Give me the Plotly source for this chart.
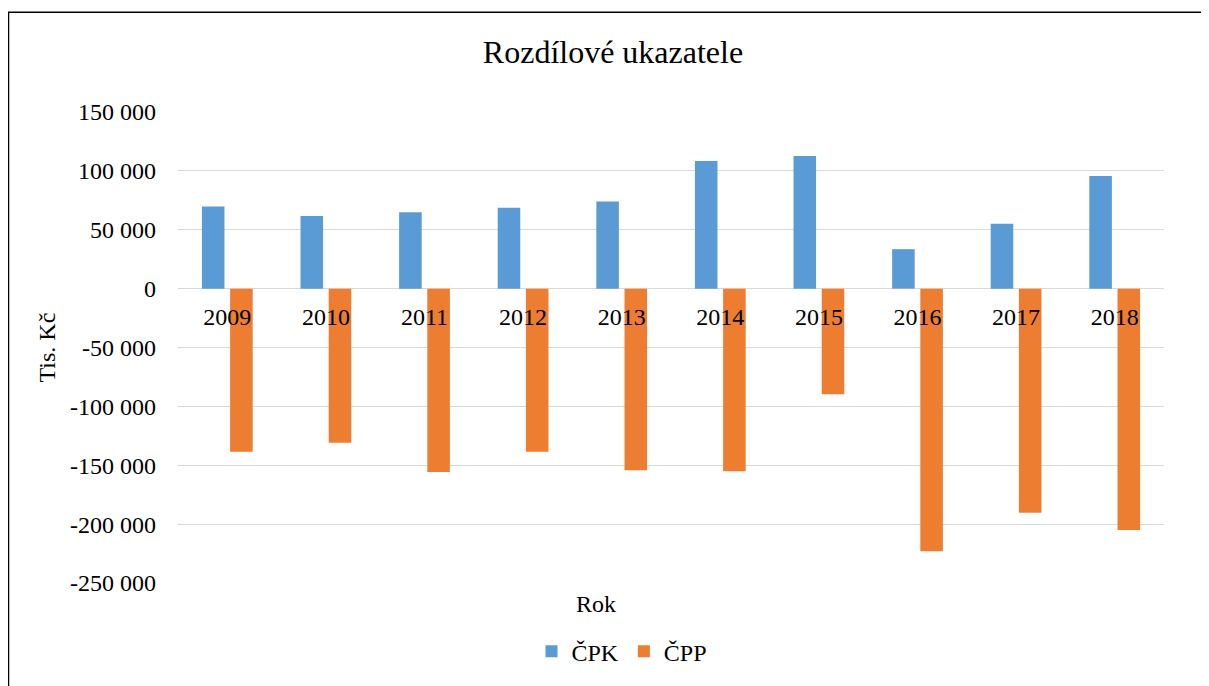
import plotly.graph_objects as go

years = ["2009", "2010", "2011", "2012", "2013", "2014", "2015", "2016", "2017", "2018"]
cpk = [69800, 61700, 64800, 68700, 74000, 108400, 112600, 33500, 55200, 95700]
cpp = [-138500, -130900, -155700, -138500, -154200, -155100, -89800, -223000, -190300, -204900]
y_tickvals = [150000, 100000, 50000, 0, -50000, -100000, -150000, -200000, -250000]
y_ticktext = ["150 000", "100 000", "50 000", "0", "-50 000", "-100 000", "-150 000", "-200 000", "-250 000"]

FONT = "Liberation Serif, Times New Roman, serif"
OFF = 8  # page body margin
W, H = 1209 - OFF, 686 - OFF
L, R, T, B = 178 - OFF, 45, 112 - OFF, 100
pw, ph = W - L - R, H - T - B

def px(x):
    return (x - OFF - L) / pw

def py(y):
    return (H - B - (y - OFF)) / ph

fig = go.Figure()
fig.add_trace(go.Bar(x=years, y=cpk, name="ČPK", marker=dict(color="#5b9bd5", line=dict(width=0))))
fig.add_trace(go.Bar(x=years, y=cpp, name="ČPP", marker=dict(color="#ed7d31", line=dict(width=0))))

fig.update_layout(
    width=W, height=H,
    margin=dict(l=L, r=R, t=T, b=B),
    paper_bgcolor="white", plot_bgcolor="white",
    font=dict(family=FONT, size=24, color="black"),
    barmode="group", bargap=0.428, bargroupgap=0.2,
    title=dict(text="Rozdílové ukazatele", x=(613 - OFF) / W, xanchor="center", y=1 - (52 - OFF) / H,
               yanchor="middle", font=dict(family=FONT, size=32, color="black")),
    showlegend=True,
    legend=dict(orientation="h", x=px(622), xanchor="center", y=py(655), yanchor="middle",
                font=dict(family=FONT, size=24, color="black"), itemwidth=30),
    xaxis=dict(anchor="free", position=0.625, showline=False, showgrid=False, zeroline=False,
               ticks="", tickfont=dict(family=FONT, size=24, color="black"), ticklabelstandoff=11),
    yaxis=dict(range=[-250000, 150000], tickvals=y_tickvals, ticktext=y_ticktext,
               showgrid=True, gridcolor="#d9d9d9", gridwidth=1.3,
               zeroline=True, zerolinecolor="#d9d9d9", zerolinewidth=1.3,
               showline=False, ticks="", ticklabelstandoff=21,
               tickfont=dict(family=FONT, size=24, color="black")),
)

fig.add_annotation(text="Tis. Kč", xref="paper", yref="paper", x=px(46), y=0.5, xanchor="center", yanchor="middle",
                   textangle=-90, showarrow=False, font=dict(family=FONT, size=24, color="black"))
fig.add_annotation(text="Rok", xref="paper", yref="paper", x=px(596), y=py(607), xanchor="center", yanchor="middle",
                   showarrow=False, font=dict(family=FONT, size=24, color="black"))

fig.add_shape(type="rect", xref="paper", yref="paper", x0=px(8.5), x1=px(1260), y0=py(740), y1=py(11.5),
              line=dict(color="black", width=1.5), fillcolor="rgba(0,0,0,0)", layer="above")

fig.write_html("out.html")
